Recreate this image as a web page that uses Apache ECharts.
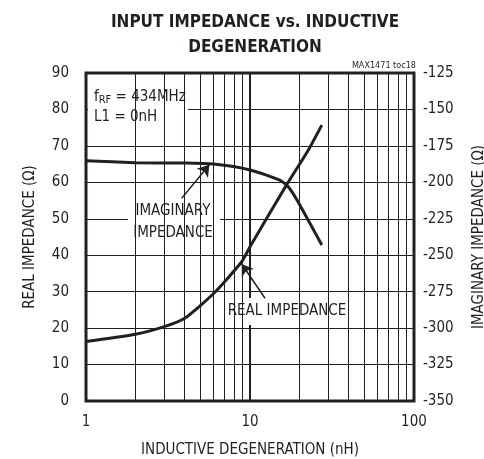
<!DOCTYPE html>
<html>
<head>
<meta charset="utf-8">
<script src="https://cdn.jsdelivr.net/npm/echarts@6/dist/echarts.min.js"></script>
<style>
  html, body { margin: 0; padding: 0; background: #fff; }
  #chart { width: 484px; height: 459px; }
</style>
</head>
<body>
<div id="chart"></div>
<script>
// values
const realPoints = [[1, 16.3], [2, 18.3], [3, 20.4], [4, 22.7], [6, 29.5], [8.9, 38.2], [10, 42.3], [16.7, 59.3], [22.7, 68.9], [27.4, 75.7]]
const imagPoints = [[1, -185.2], [2, -186.5], [4, -186.8], [6, -187.5], [10, -191.5], [15.2, -198.5], [17.1, -203], [19.3, -212], [27.4, -243]]
const minorGridX = [2, 3, 4, 5, 6, 7, 8, 9, 20, 30, 40, 50, 60, 70, 80, 90]
const imagArrow = [[3.83, 55.6], [5.65, 64.8]]
const realArrow = [[12.35, 28.2], [8.9, 37.6]]

const FONT = '"DejaVu Sans Condensed", "Liberation Sans Narrow", sans-serif'
const INK = '#231f20'

const chart = echarts.init(document.getElementById('chart'))

const option = {
  animation: false,
  title: {
    text: 'INPUT IMPEDANCE vs. INDUCTIVE\nDEGENERATION',
    left: 250,
    textAlign: 'center',
    top: 5,
    textStyle: { fontFamily: FONT, fontWeight: 'bold', fontSize: 17, lineHeight: 25, color: INK }
  },
  grid: {
    left: 86, right: 70, top: 73, bottom: 58,
    outerBoundsMode: 'none',
    show: true, borderColor: INK, borderWidth: 3, backgroundColor: 'transparent'
  },
  xAxis: {
    type: 'log',
    min: 1,
    max: 100,
    logBase: 10,
    name: 'INDUCTIVE DEGENERATION (nH)',
    nameLocation: 'middle',
    nameGap: 42,
    nameTextStyle: { fontFamily: FONT, fontSize: 15, color: INK },
    axisLine: { show: false },
    axisTick: { show: false },
    axisLabel: { fontFamily: FONT, fontSize: 15, color: INK, margin: 14 },
    splitLine: { show: true, lineStyle: { color: INK, width: 2 } }
  },
  yAxis: [
    {
      type: 'value',
      min: 0,
      max: 90,
      interval: 10,
      name: 'REAL IMPEDANCE (Ω)',
      nameLocation: 'middle',
      nameRotate: 90,
      nameGap: 48,
      nameTextStyle: { fontFamily: FONT, fontSize: 15, color: INK },
      axisLine: { show: false },
      axisTick: { show: false },
      axisLabel: { fontFamily: FONT, fontSize: 15, color: INK, margin: 17 },
      splitLine: { show: true, lineStyle: { color: INK, width: 1 } }
    },
    {
      type: 'value',
      min: -350,
      max: -125,
      interval: 25,
      position: 'right',
      name: 'IMAGINARY IMPEDANCE (Ω)',
      nameLocation: 'middle',
      nameRotate: 90,
      nameGap: 58,
      nameTextStyle: { fontFamily: FONT, fontSize: 15, color: INK },
      axisLine: { show: false },
      axisTick: { show: false },
      axisLabel: { fontFamily: FONT, fontSize: 15, color: INK, margin: 9 },
      splitLine: { show: false }
    }
  ],
  graphic: [
    { type: 'rect', z: 2, shape: { x: 88, y: 81, width: 100, height: 47 }, style: { fill: '#fff' } },
    {
      type: 'text', z: 2, x: 94, y: 87,
      style: {
        text: 'f{sub|RF} = 434MHz\nL1 = 0nH',
        fill: INK, fontFamily: FONT, fontSize: 15, lineHeight: 20,
        rich: { sub: { fontFamily: FONT, fontSize: 11, padding: [6, 0, 0, 0], fill: INK } }
      }
    },
    { type: 'rect', z: 2, shape: { x: 128, y: 188, width: 92, height: 59 }, style: { fill: '#fff' } },
    {
      type: 'text', z: 2, x: 173, y: 200,
      style: { text: 'IMAGINARY\nIMPEDANCE', fill: INK, fontFamily: FONT, fontSize: 15, lineHeight: 22, align: 'center', verticalAlign: 'top' }
    },
    { type: 'rect', z: 2, shape: { x: 220, y: 298, width: 130, height: 27 }, style: { fill: '#fff' } },
    {
      type: 'text', z: 2, x: 287, y: 304,
      style: { text: 'REAL IMPEDANCE', fill: INK, fontFamily: FONT, fontSize: 15, align: 'center', verticalAlign: 'top' }
    },
    {
      type: 'text', z: 2, x: 416, y: 61,
      style: { text: 'MAX1471 toc18', fill: INK, fontFamily: FONT, fontSize: 9, align: 'right', verticalAlign: 'top' }
    }
  ],
  series: [
    {
      name: 'minor grid',
      type: 'line',
      data: [],
      z: 1,
      silent: true,
      markLine: {
        silent: true,
        symbol: 'none',
        label: { show: false },
        lineStyle: { color: INK, width: 1, type: 'solid' },
        data: minorGridX.map(v => ({ xAxis: v }))
      }
    },
    {
      name: 'REAL IMPEDANCE',
      type: 'line',
      yAxisIndex: 0,
      data: realPoints,
      smooth: 0.2,
      symbol: 'none',
      z: 3,
      lineStyle: { color: INK, width: 3 },
      markLine: {
        silent: true,
        symbol: ['none', 'arrow'],
        symbolSize: 11,
        label: { show: false },
        itemStyle: { color: INK },
        lineStyle: { color: INK, width: 1.5, type: 'solid' },
        data: [
          [{ coord: imagArrow[0] }, { coord: imagArrow[1] }],
          [{ coord: realArrow[0] }, { coord: realArrow[1] }]
        ]
      }
    },
    {
      name: 'IMAGINARY IMPEDANCE',
      type: 'line',
      yAxisIndex: 1,
      data: imagPoints,
      smooth: 0.2,
      symbol: 'none',
      z: 3,
      lineStyle: { color: INK, width: 3 }
    }
  ]
}

chart.setOption(option)
</script>
</body>
</html>
